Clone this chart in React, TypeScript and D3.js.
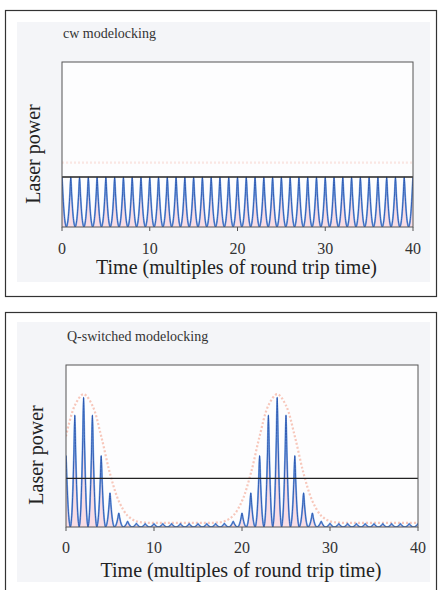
import React from 'react';
import * as d3 from 'd3';

// round trip index 0..40
const roundTrips = [
  0, 1, 2, 3, 4, 5, 6, 7, 8, 9, 10, 11, 12, 13, 14, 15, 16, 17, 18, 19, 20,
  21, 22, 23, 24, 25, 26, 27, 28, 29, 30, 31, 32, 33, 34, 35, 36, 37, 38, 39, 40,
];
const xTicks = [0, 10, 20, 30, 40];

// peak power of each pulse (fraction of plot height)
const cwPeaks = [
  0.3, 0.3, 0.3, 0.3, 0.3, 0.3, 0.3, 0.3, 0.3, 0.3, 0.3, 0.3, 0.3, 0.3, 0.3, 0.3, 0.3, 0.3, 0.3, 0.3, 0.3,
  0.3, 0.3, 0.3, 0.3, 0.3, 0.3, 0.3, 0.3, 0.3, 0.3, 0.3, 0.3, 0.3, 0.3, 0.3, 0.3, 0.3, 0.3, 0.3, 0.3,
];
const qPeaks = [
  0.44, 0.69, 0.8, 0.69, 0.44, 0.21, 0.086, 0.035, 0.022, 0.02, 0.02, 0.02, 0.02, 0.02, 0.02, 0.02, 0.02, 0.02, 0.022, 0.035, 0.086,
  0.21, 0.44, 0.69, 0.8, 0.69, 0.44, 0.21, 0.086, 0.035, 0.022, 0.02, 0.02, 0.02, 0.02, 0.02, 0.02, 0.02, 0.02, 0.02, 0.02,
];
// smooth envelope (pink, dotted)
const cwEnvelope = [
  0.39, 0.39, 0.39, 0.39, 0.39, 0.39, 0.39, 0.39, 0.39, 0.39, 0.39, 0.39, 0.39, 0.39, 0.39, 0.39, 0.39, 0.39, 0.39, 0.39, 0.39,
  0.39, 0.39, 0.39, 0.39, 0.39, 0.39, 0.39, 0.39, 0.39, 0.39, 0.39, 0.39, 0.39, 0.39, 0.39, 0.39, 0.39, 0.39, 0.39, 0.39,
];
const qEnvelope = [
  0.56, 0.75, 0.82, 0.75, 0.56, 0.33, 0.16, 0.07, 0.035, 0.027, 0.025, 0.025, 0.025, 0.025, 0.025, 0.025, 0.025, 0.027, 0.035, 0.07, 0.16,
  0.33, 0.56, 0.75, 0.82, 0.75, 0.56, 0.33, 0.16, 0.07, 0.035, 0.027, 0.025, 0.025, 0.025, 0.025, 0.025, 0.025, 0.025, 0.025, 0.025,
];
const cwAverage = 0.303;
const qAverage = 0.3;

// shape of a single pulse over one round trip
const pulseOffsets = [-0.5, -0.4, -0.3, -0.2, -0.1, 0, 0.1, 0.2, 0.3, 0.4, 0.5];
const pulseShape = [0, 0.05, 0.17, 0.38, 0.67, 1, 0.67, 0.38, 0.17, 0.05, 0];

const serif = '"Liberation Serif", "DejaVu Serif", serif';

function pulseTrain(peaks: number[]) {
  const pts: [number, number][] = [];
  roundTrips.forEach((t, i) => {
    pulseOffsets.forEach((o, j) => {
      if (i > 0 && j === 0) return;
      pts.push([t + o, peaks[i] * pulseShape[j]]);
    });
  });
  return pts;
}

type PanelProps = {
  id: string;
  title: string;
  frameTop: number;
  frameBottom: number;
  bgTop: number;
  bgBottom: number;
  plot: { left: number; right: number; top: number; bottom: number };
  titleY: number;
  tickY: number;
  labelY: number;
  yLabelX: number;
  yLabelY: number;
  peaks: number[];
  envelope: number[];
  envOpacity: number;
  average: number;
};

function Panel(p: PanelProps) {
  const x = d3.scaleLinear().domain([0, 40]).range([p.plot.left, p.plot.right]);
  const y = d3.scaleLinear().domain([0, 1]).range([p.plot.bottom, p.plot.top]);
  const train = pulseTrain(p.peaks);
  const line = d3.line<[number, number]>().x(d => x(d[0])).y(d => y(d[1])).curve(d3.curveMonotoneX);
  const area = d3.area<[number, number]>().x(d => x(d[0])).y0(y(0)).y1(d => y(d[1])).curve(d3.curveMonotoneX);
  const env = d3.line<number>().x((_, i) => x(roundTrips[i])).y(d => y(d)).curve(d3.curveCatmullRom);
  const clipId = `clip-${p.id}`;
  return (
    <g>
      <rect x={5.5} y={p.frameTop + 0.5} width={431} height={p.frameBottom - p.frameTop} fill="#ffffff" stroke="#333" strokeWidth={1.2} />
      <rect x={17} y={p.bgTop} width={413} height={p.bgBottom - p.bgTop} fill="#f4f5f8" />
      <text x={p.plot.left + 1} y={p.titleY} fontFamily={serif} fontSize={14} fill="#333">{p.title}</text>
      <defs>
        <clipPath id={clipId}>
          <rect x={p.plot.left} y={p.plot.top} width={p.plot.right - p.plot.left} height={p.plot.bottom - p.plot.top} />
        </clipPath>
      </defs>
      <rect x={p.plot.left} y={p.plot.top} width={p.plot.right - p.plot.left} height={p.plot.bottom - p.plot.top} fill="#fdfdfe" />
      <g clipPath={`url(#${clipId})`}>
        <path d={area(train) || ''} fill="#f6c3cf" opacity={0.55} />
        <path d={env(p.envelope) || ''} fill="none" stroke="#f4a48e" strokeWidth={2.2} strokeDasharray="2,2" opacity={p.envOpacity} />
        <path d={line(train) || ''} fill="none" stroke="#4d8fe0" strokeWidth={1.8} opacity={0.7} />
        <path d={line(train) || ''} fill="none" stroke="#1f4aa8" strokeWidth={0.8} />
      </g>
      <line x1={p.plot.left} x2={p.plot.right} y1={y(p.average)} y2={y(p.average)} stroke="#222" strokeWidth={1.4} />
      <rect x={p.plot.left} y={p.plot.top} width={p.plot.right - p.plot.left} height={p.plot.bottom - p.plot.top} fill="none" stroke="#555" strokeWidth={1} />
      {xTicks.map(t => (
        <g key={t}>
          <line x1={x(t)} x2={x(t)} y1={p.plot.bottom} y2={p.plot.bottom + 4} stroke="#555" strokeWidth={1} />
          <text x={x(t)} y={p.tickY} textAnchor="middle" fontFamily={serif} fontSize={16} fill="#333">{t}</text>
        </g>
      ))}
      <text x={(p.plot.left + p.plot.right) / 2 - 1} y={p.labelY} textAnchor="middle" fontFamily={serif} fontSize={20} fill="#222">
        Time (multiples of round trip time)
      </text>
      <text transform={`translate(${p.yLabelX},${p.yLabelY}) rotate(-90)`} textAnchor="middle" fontFamily={serif} fontSize={20} fill="#222">
        Laser power
      </text>
    </g>
  );
}

export default function App() {
  return (
    <svg width={438} height={590} style={{ position: 'fixed', left: 0, top: 0, background: '#fff' }}>
      <Panel
        id="cw"
        title="cw modelocking"
        frameTop={10}
        frameBottom={296}
        bgTop={22}
        bgBottom={282}
        plot={{ left: 62, right: 413, top: 62, bottom: 227 }}
        titleY={38}
        tickY={254}
        labelY={274}
        yLabelX={40}
        yLabelY={154}
        peaks={cwPeaks}
        envelope={cwEnvelope}
        envOpacity={0.25}
        average={cwAverage}
      />
      <Panel
        id="q"
        title="Q-switched modelocking"
        frameTop={312}
        frameBottom={600}
        bgTop={322}
        bgBottom={582}
        plot={{ left: 66, right: 418, top: 365, bottom: 527 }}
        titleY={341}
        tickY={553}
        labelY={577}
        yLabelX={43}
        yLabelY={455}
        peaks={qPeaks}
        envelope={qEnvelope}
        envOpacity={0.6}
        average={qAverage}
      />
    </svg>
  );
}
